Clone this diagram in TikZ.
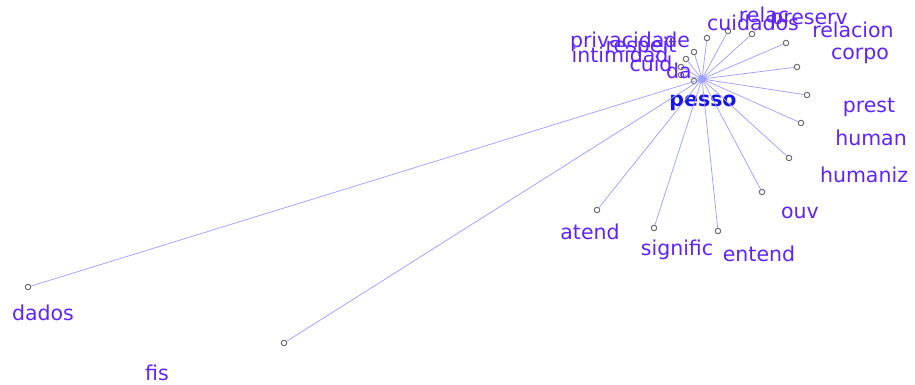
\documentclass[tikz,border=0pt]{standalone}
\usepackage{fontspec}
\setmainfont{DejaVu Sans}
\definecolor{lbl}{RGB}{95,35,255}
\definecolor{hubtxt}{RGB}{20,20,235}
\definecolor{edge}{RGB}{160,160,255}
\definecolor{dotc}{RGB}{110,110,110}
\begin{document}
\begin{tikzpicture}[x=1pt,y=-1pt,
  leaf/.style={circle,draw=dotc,fill=white,line width=1pt,inner sep=0pt,minimum size=5.5pt},
  hubdot/.style={circle,fill=edge,inner sep=0pt,minimum size=8pt},
  lab/.style={text=lbl,font=\fontsize{20.5}{22}\selectfont,inner sep=0pt},
  link/.style={draw=edge,line width=0.75pt}]
\useasboundingbox (0,0) rectangle (915,385);
% hub
\node[hubdot] (hub) at (702,79) {};
\node[text=hubtxt,font=\fontsize{20.5}{22}\selectfont\bfseries,inner sep=0pt] (pesso) at (703,103) {pesso};
% leaves
\node[leaf] (d1) at (707,38) {};
\node[leaf] (d2) at (728,31) {};
\node[leaf] (d3) at (752,34) {};
\node[leaf] (d4) at (786,43) {};
\node[leaf] (d5) at (797,67) {};
\node[leaf] (d6) at (807,95) {};
\node[leaf] (d7) at (801,123) {};
\node[leaf] (d8) at (789,158) {};
\node[leaf] (d9) at (762,192) {};
\node[leaf] (d10) at (718,231) {};
\node[leaf] (d11) at (654,228) {};
\node[leaf] (d12) at (597,210) {};
\node[leaf] (d13) at (28,287) {};
\node[leaf] (d14) at (284,343) {};
\node[leaf] (d15) at (694,52) {};
\node[leaf] (d16) at (686,59) {};
\node[leaf] (d17) at (681,67) {};
\node[leaf] (d18) at (681,75) {};
\node[leaf] (d19) at (694,81) {};
% edges
\foreach \i in {1,...,19} \draw[link] (hub.center) -- (d\i);
\node[hubdot] at (hub) {};
% labels
\node[lab] (l1) at (753,23) {cuidados};
\node[lab] (l2) at (764,15) {relac};
\node[lab] (l3) at (809,21) {preserv};
\node[lab] (l4) at (853,30) {relacion};
\node[lab] (l5) at (860,56) {corpo};
\node[lab] (l6) at (869,107) {prest};
\node[lab] (l7) at (871,138) {human};
\node[lab] (l8) at (864,175) {humaniz};
\node[lab] (l9) at (800,213) {ouv};
\node[lab] (l10) at (759,254) {entend};
\node[lab] (l11) at (677,250) {signific};
\node[lab] (l12) at (590,232) {atend};
\node[lab] (l13) at (43,313) {dados};
\node[lab] (l14) at (157,373) {fis};
\node[lab] (l15) at (630,42) {privacidade};
\node[lab] (l16) at (641,47) {respeit};
\node[lab] (l17) at (620,55) {intimidad};
\node[lab] (l18) at (651,64) {cuid};
\node[lab] (l19) at (679,71) {da};
\end{tikzpicture}
\end{document}
